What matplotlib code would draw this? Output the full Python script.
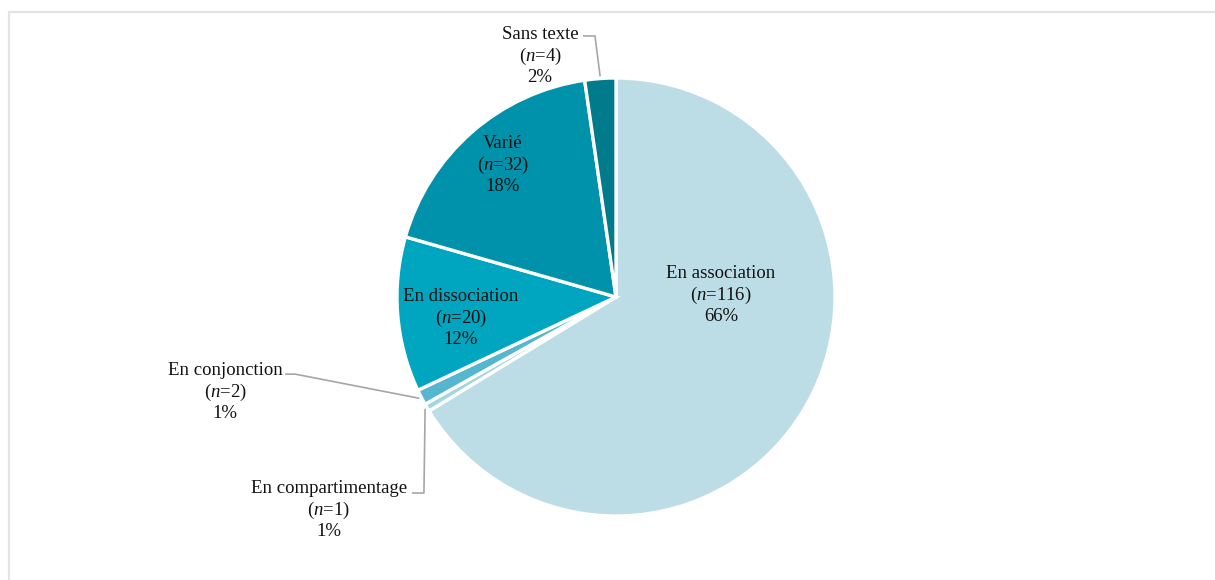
import numpy as np
import matplotlib
matplotlib.use("Agg")
import matplotlib.pyplot as plt
from matplotlib.patches import Rectangle

plt.rcParams['font.family'] = ['Liberation Serif', 'DejaVu Serif']
plt.rcParams['mathtext.fontset'] = 'custom'
plt.rcParams['mathtext.rm'] = 'Liberation Serif'
plt.rcParams['mathtext.it'] = 'Liberation Serif:italic'

# catégories dans l'ordre horaire depuis midi
categories = ['En association', 'En compartimentage', 'En conjonction',
              'En dissociation', 'Varié', 'Sans texte']
counts = [116, 1, 2, 20, 32, 4]
percents = [66, 1, 1, 12, 18, 2]

colors = ['#BCDDE6', '#A3D5E3', '#55B6CF', '#00A5C0', '#0092AA', '#007B8B']

# position des étiquettes (en rayons, centre du camembert = 0,0)
label_pos = [(0.479, 0.009), (-1.311, -0.973), (-1.785, -0.434),
             (-0.708, -0.096), (-0.516, 0.603), (-0.347, 1.100)]
# coude des lignes de rappel pour les étiquettes extérieures
leaders = {1: [(-0.932, -0.895), (-0.877, -0.895)],
           2: [(-1.511, -0.352), (-1.466, -0.352)],
           5: [(-0.151, 1.192), (-0.096, 1.192)]}

W, H = 1215, 580
cx, cy, R = 616, 297, 219

fig = plt.figure(figsize=(W / 100, H / 100), dpi=100)
fig.patches.append(Rectangle((9 / W, -0.1), 1.2, (H - 12) / H + 0.1,
                             transform=fig.transFigure, fill=False,
                             edgecolor='#E3E3E3', linewidth=1.6))

ax = fig.add_axes([0, 0, 1, 1])
ax.axis('off')

wedges, _ = ax.pie(counts, colors=colors, startangle=90, counterclock=False,
                   radius=1.0, center=(0, 0),
                   wedgeprops=dict(edgecolor='white', linewidth=2.4))
ax.set_xlim(-cx / R, (W - cx) / R)
ax.set_ylim(-(H - cy) / R, cy / R)

for i, (cat, n, p) in enumerate(zip(categories, counts, percents)):
    x, y = label_pos[i]
    ax.text(x, y, f"{cat}\n($n$={n})\n{p}%", ha='center', va='center',
            fontsize=13.5, color='#111111', linespacing=1.15)
    if i in leaders:
        w = wedges[i]
        mid = np.deg2rad((w.theta1 + w.theta2) / 2)
        end = (1.01 * np.cos(mid), 1.01 * np.sin(mid))
        pts = leaders[i] + [end]
        ax.plot([q[0] for q in pts], [q[1] for q in pts],
                color='#A6A6A6', linewidth=1.2, solid_capstyle='butt')

fig.savefig('out.png', dpi=100, facecolor='white')
